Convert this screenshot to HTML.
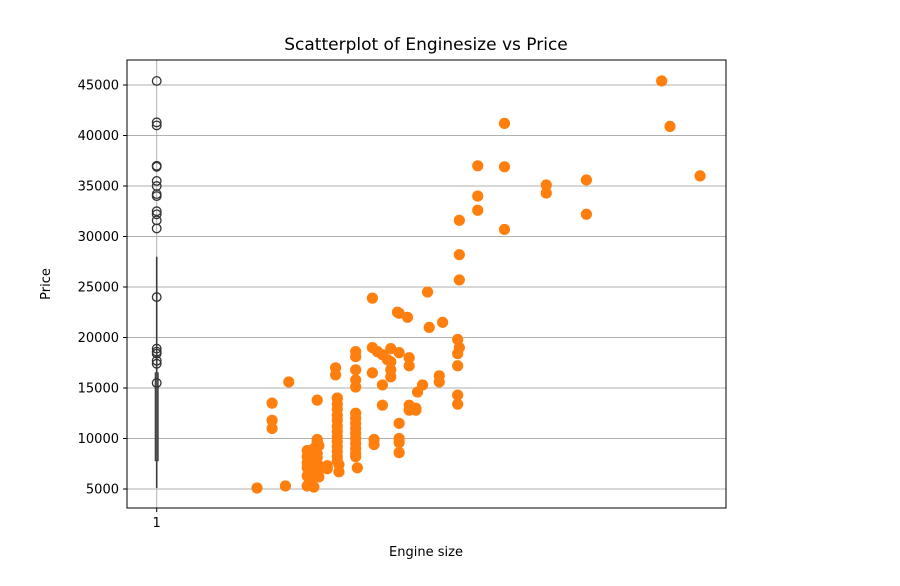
<!DOCTYPE html>
<html><head><meta charset="utf-8"><style>
html,body{margin:0;padding:0;background:#fff;}
svg{display:block;font-family:"DejaVu Sans","Liberation Sans",sans-serif;}
</style></head><body>
<svg id="chart" width="900" height="586">
<text x="426" y="50" font-size="17" text-anchor="middle" fill="#000">Scatterplot of Enginesize vs Price</text>
<text x="426" y="556" font-size="13" text-anchor="middle">Engine size</text>
<text transform="translate(50,284) rotate(-90)" font-size="13" text-anchor="middle">Price</text>
<g id="grid"></g><g id="box"></g><g id="pts"></g><g id="axes"></g>
</svg>
<script>
const yTicks=[5000,10000,15000,20000,25000,30000,35000,40000,45000];
const xTicks=[1];
const outlierPrices=[45400,41300,41000,37000,36900,35500,35000,34200,34000,32500,32200,31600,30800,24000,18900,18600,18400,17700,17400,15500];
const boxStats=[5100,7800,10300,16500,28000];
const engineSize=[61,78,80,70,70,70,97,
91,92,93,91,92,93,94,91,93,95,91,92,94,95,97,91,93,97,91,95,97,98,97,97,98,97,92,95,98,98,103,103,97,97,
109,109,109,109,109,109,109,109,109,109,109,109,109,110,110,108,108,109,
120,120,120,120,120,120,120,120,120,120,121,120,120,120,120,120,
130,130,131,131,130,133,136,139,141,136,141,141,136,141,145,146,151,146,152,152,146,146,146,146,152,152,156,157,156,160,163,164,172,170,170,181,181,181,181,181,182,182,182,182,193,193,193,209,209,209,234,234,258,258,303,308,326];
const price=[5100,5300,15600,13500,11800,11000,13800,
5300,5500,6000,6300,6500,6800,7000,7100,7300,7500,7600,7800,7900,8000,8100,8200,8400,8500,8800,9000,9200,9300,9500,7100,7300,6600,5400,5200,6200,6900,7000,7300,9900,9700,
14000,13400,12900,12300,11800,11200,10700,10200,9700,9200,8700,8200,7800,7400,6700,17000,16300,14000,
12500,12000,11500,11000,10500,10000,9500,9000,8500,8200,7100,18600,18100,16800,15800,15100,
23900,16500,9900,9400,19000,18600,18300,17800,17600,15300,16800,18900,13300,16100,22500,22400,22000,18500,18000,17200,11500,10000,9600,8600,13300,12800,12800,14600,13000,15300,24500,21000,21500,16200,15600,19800,18400,17200,14300,13400,25700,28200,31600,19000,37000,34000,32600,41200,36900,30700,35100,34300,35600,32200,45400,40900,36000];
const NS='http://www.w3.org/2000/svg';
const L=127,R=726,T=60,B=508;
function xs(v){return 156.7+(v-1)*1.672;}
function ys(v){return 489-(v-5000)*0.0101;}
function mk(tag,attrs,parent){const e=document.createElementNS(NS,tag);for(const k in attrs)e.setAttribute(k,attrs[k]);parent.appendChild(e);return e;}
const grid=document.getElementById('grid'),axes=document.getElementById('axes'),box=document.getElementById('box'),pts=document.getElementById('pts');
yTicks.forEach(t=>{
  const g=mk('line',{x1:L,x2:R,y1:ys(t),y2:ys(t),stroke:'#b0b0b0','stroke-width':1},grid);
  
  
  const tk=mk('line',{x1:L-4,x2:L,y1:ys(t),y2:ys(t),stroke:'#000'},axes);
  
  
  const lb=mk('text',{x:L-8,y:ys(t)+4.5,'font-size':13,'text-anchor':'end'},axes);
  lb.textContent=t;
  
  
});
xTicks.forEach(t=>{
  const g=mk('line',{x1:xs(t),x2:xs(t),y1:T,y2:B,stroke:'#b0b0b0'},grid);
  
  
  const tk=mk('line',{x1:xs(t),x2:xs(t),y1:B,y2:B+4,stroke:'#000'},axes);
  
  
  const lb=mk('text',{x:xs(t),y:B+19,'font-size':13,'text-anchor':'middle'},axes);
  lb.textContent=t;
  
  
});
const fr=mk('rect',{x:L,y:T,width:R-L,height:B-T,fill:'none',stroke:'#000','stroke-width':1},axes);


const bx=xs(1);
const wh=mk('line',{x1:bx,x2:bx,y1:ys(boxStats[0]),y2:ys(boxStats[4]),stroke:'#3a3a3a','stroke-width':1.6},box);


const br=mk('rect',{x:bx-1.5,y:ys(boxStats[3]),width:3,height:ys(boxStats[1])-ys(boxStats[3]),fill:'#555',stroke:'#3a3a3a'},box);


outlierPrices.forEach(p=>{
  const c=mk('circle',{cx:bx,cy:ys(p),r:4.3,fill:'none',stroke:'#333','stroke-width':1.3},box);
  
  
});
engineSize.forEach((e,i)=>{
  const c=mk('circle',{cx:xs(e),cy:ys(price[i]),r:5.6,fill:'#ff7f0e'},pts);
  
  
});
</script>
</body></html>
